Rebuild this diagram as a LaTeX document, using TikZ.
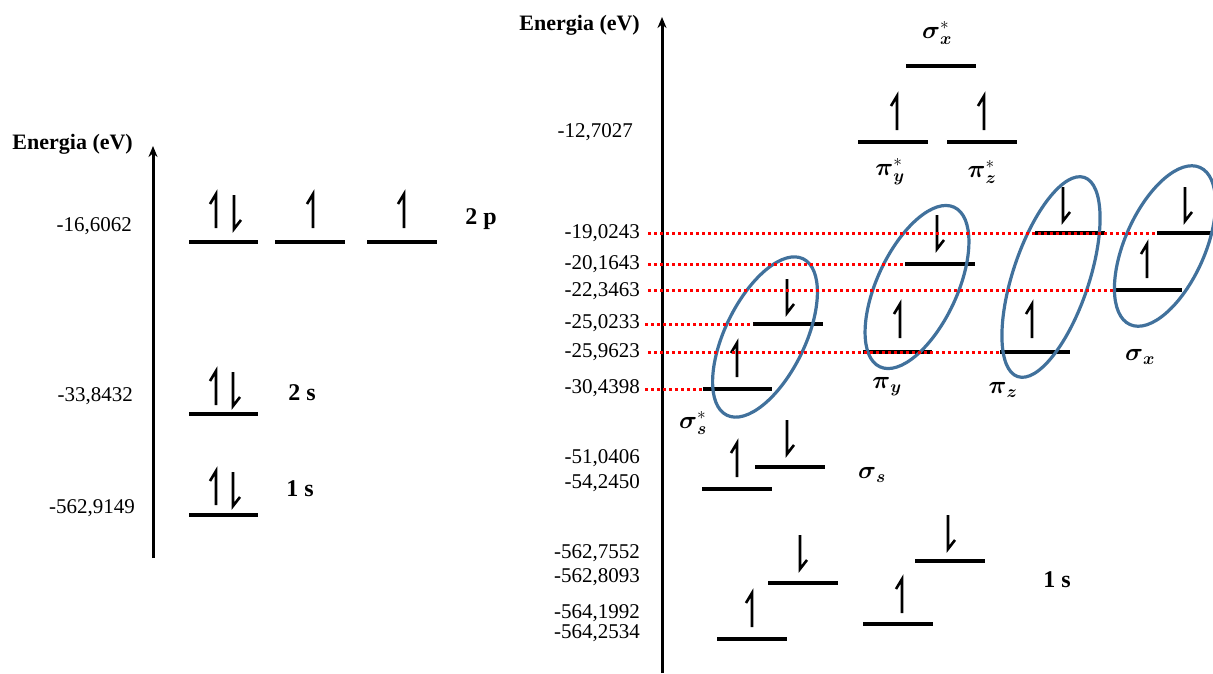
\documentclass[tikz,border=0pt]{standalone}
\usepackage{amsmath}
\usepackage{fontspec}
\setmainfont{Liberation Serif}
\usetikzlibrary{arrows.meta}
\definecolor{ellblue}{HTML}{41719C}
\begin{document}
\begin{tikzpicture}[x=1pt,y=-1pt,
  lvl/.style={line width=3.3pt},
  axis/.style={line width=3pt,-{Stealth[length=11pt,width=9pt]}},
  num/.style={font=\fontsize{21}{24}\selectfont, anchor=east, inner sep=0pt},
  ttl/.style={font=\fontsize{22}{26}\selectfont\bfseries, anchor=east, inner sep=0pt},
  orb/.style={font=\fontsize{24}{28}\selectfont\bfseries, inner sep=0pt},
  mo/.style={font=\fontsize{25}{29}\selectfont, inner sep=0pt},
  reddot/.style={red, line width=3pt, dash pattern=on 3pt off 3pt},
  ell/.style={draw=ellblue, line width=3.2pt},
  spinup/.pic={\draw[line width=2.6pt] (0,0) -- (0,-34) -- (-6,-24);},
  spindn/.pic={\draw[line width=2.6pt] (0,0) -- (0,34) -- (7,25);},
]
\useasboundingbox (0,0) rectangle (1213,673);

% ---------------- left diagram ----------------
\draw[axis] (153,558) -- (153,146);
\node[ttl] (eL) at (133,144) {Energia (eV)};
\node[num] (l1) at (132,226) {-16,6062};
\node[num] (l2) at (133,396) {-33,8432};
\node[num] (l3) at (135,508) {-562,9149};

% 2p
\draw[lvl] (189,242) -- (258,242);
\draw[lvl] (275,242) -- (345,242);
\draw[lvl] (367,242) -- (437,242);
\pic at (216,228) {spinup};
\pic at (234,195) {spindn};
\pic at (313,228) {spinup};
\pic at (404,228) {spinup};
\node[orb] (p2) at (481,219) {2 p};
% 2s
\draw[lvl] (189,414) -- (258,414);
\pic at (216,405) {spinup};
\pic at (233,372) {spindn};
\node[orb] (s2) at (302,393) {2 s};
% 1s
\draw[lvl] (189,515) -- (258,515);
\pic at (216,505) {spinup};
\pic at (233,472) {spindn};
\node[orb] (s1) at (300,489) {1 s};

% ---------------- right diagram ----------------
\draw[axis] (662,673) -- (662,17);
\node[ttl] (eR) at (640,25) {Energia (eV)};
\node[num] (r0) at (633,132) {-12,7027};
\node[num] (r1) at (640,233) {-19,0243};
\node[num] (r2) at (640,264) {-20,1643};
\node[num] (r3) at (640,291) {-22,3463};
\node[num] (r4) at (640,323) {-25,0233};
\node[num] (r5) at (640,352) {-25,9623};
\node[num] (r6) at (640,388) {-30,4398};
\node[num] (r7) at (640,458) {-51,0406};
\node[num] (r8) at (640,483) {-54,2450};
\node[num] (r9) at (640,553) {-562,7552};
\node[num] (r10) at (640,577) {-562,8093};
\node[num] (r11) at (640,613) {-564,1992};
\node[num] (r12) at (640,633) {-564,2534};

% antibonding top
\draw[lvl] (906,66) -- (976,66);
\node[mo] (sxs) at (937,33) {$\boldsymbol{\sigma}_{\boldsymbol{x}}^{*}$};
\draw[lvl] (858,142) -- (928,142);
\pic at (897,130) {spinup};
\node[mo] (pys) at (890,172) {$\boldsymbol{\pi}_{\boldsymbol{y}}^{*}$};
\draw[lvl] (947,142) -- (1017,142);
\pic at (984,130) {spinup};
\node[mo] (pzs) at (982,172) {$\boldsymbol{\pi}_{\boldsymbol{z}}^{*}$};

% sigma_s^* group
\coordinate (ssL) at (703,389);
\coordinate (ssU) at (753,324);
\draw[lvl] (ssL) -- ++(69,0);
\draw[lvl] (ssU) -- ++(70,0);
\pic at (737,377) {spinup};
\pic at (787,279) {spindn};
\draw[ell, rotate around={-26:(765,337)}] (765,337) ellipse (40 and 87);
\node[mo] (sss) at (693,423) {$\boldsymbol{\sigma}_{\boldsymbol{s}}^{*}$};

% pi_y group
\coordinate (pyU) at (905,264);
\coordinate (pyL) at (863,352);
\draw[lvl] (pyU) -- ++(70,0);
\draw[lvl] (pyL) -- ++(69,0);
\pic at (937,215) {spindn};
\pic at (900,338) {spinup};
\draw[ell, rotate around={-25:(917,287)}] (917,287) ellipse (40 and 88);
\node[mo] (py) at (887,387) {$\boldsymbol{\pi}_{\boldsymbol{y}}$};

% pi_z group
\coordinate (pzU) at (1035,233);
\coordinate (pzL) at (1000,352);
\draw[lvl] (pzU) -- ++(70,0);
\draw[lvl] (pzL) -- ++(70,0);
\pic at (1063,187) {spindn};
\pic at (1032,338) {spinup};
\draw[ell, rotate around={-18.5:(1051,277)}] (1051,277) ellipse (38 and 105);
\node[mo] (pz) at (1003,390) {$\boldsymbol{\pi}_{\boldsymbol{z}}$};

% sigma_x group
\coordinate (sxU) at (1157,233);
\coordinate (sxL) at (1113,290);
\draw[lvl] (sxU) -- (1213,233);
\draw[lvl] (sxL) -- ++(69,0);
\pic at (1185,187) {spindn};
\pic at (1147,278) {spinup};
\draw[ell, rotate around={-24:(1165,246)}] (1165,246) ellipse (40 and 86);
\node[mo] (sx) at (1140,357) {$\boldsymbol{\sigma}_{\boldsymbol{x}}$};

% red dotted guides
\draw[reddot] (648,233) -- (sxU);
\draw[reddot] (648,264) -- (pyU);
\draw[reddot] (648,290) -- (sxL);
\draw[reddot] (645,324) -- (ssU);
\draw[reddot] (648,352) -- (pzL);
\draw[reddot] (645,389) -- (ssL);

% sigma_s group
\draw[lvl] (702,489) -- (772,489);
\draw[lvl] (755,467) -- (825,467);
\pic at (737,477) {spinup};
\pic at (787,420) {spindn};
\node[mo] (ss) at (872,475) {$\boldsymbol{\sigma}_{\boldsymbol{s}}$};

% 1s groups
\draw[lvl] (717,639) -- (787,639);
\draw[lvl] (768,583) -- (838,583);
\pic at (752,627) {spinup};
\pic at (800,535) {spindn};
\draw[lvl] (863,624) -- (933,624);
\draw[lvl] (915,561) -- (985,561);
\pic at (902,613) {spinup};
\pic at (948,515) {spindn};
\node[orb] (s1R) at (1057,580) {1 s};
\end{tikzpicture}
\end{document}
